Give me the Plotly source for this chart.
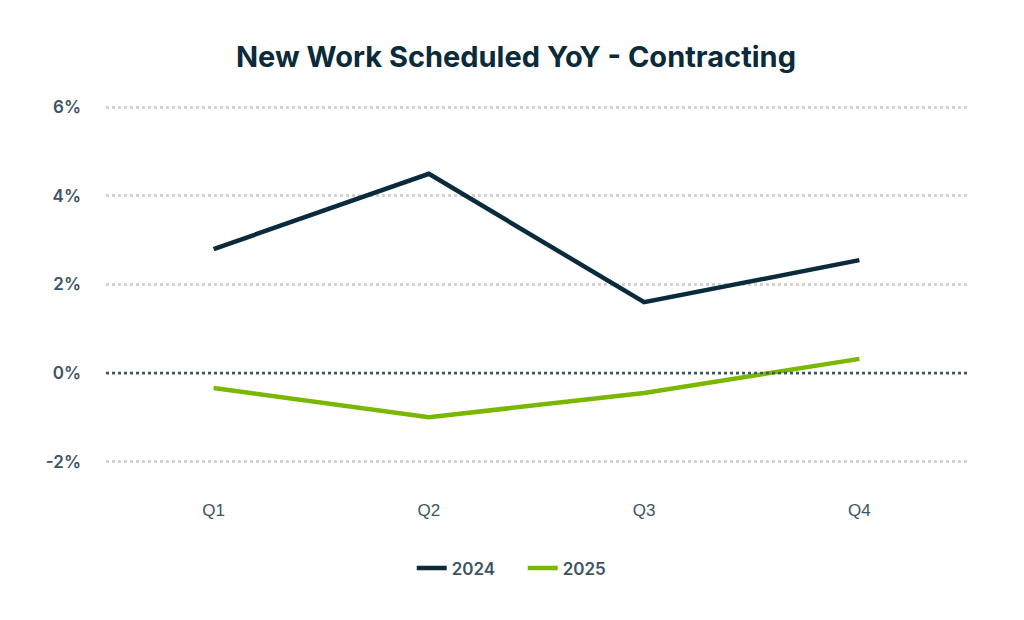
import plotly.graph_objects as go

quarters = ["Q1", "Q2", "Q3", "Q4"]
y2024 = [2.8, 4.5, 1.6, 2.55]
y2025 = [-0.34, -1.0, -0.45, 0.32]
ytick_vals = [-2, 0, 2, 4, 6]
ytick_text = ["-2%", "0%", "2%", "4%", "6%"]

fig = go.Figure()
fig.add_trace(go.Scatter(x=quarters, y=y2024, mode="lines", name="2024",
                         line=dict(color="#0a2b3b", width=4.5)))
fig.add_trace(go.Scatter(x=quarters, y=y2025, mode="lines", name="2025",
                         line=dict(color="#7ab800", width=4.5)))
fig.add_hline(y=0, line=dict(color="#3a5563", width=2.5, dash="dot"), layer="above")

fig.update_layout(
    width=1016, height=612,
    margin=dict(l=98, r=57, t=95, b=154),
    paper_bgcolor="white", plot_bgcolor="white",
    title=dict(text="<b>New Work Scheduled YoY - Contracting</b>", x=0.5, xanchor="center",
               y=0.92, yanchor="middle",
               font=dict(family="Inter", size=29, color="#0b2a3a", weight=800)),
    showlegend=True,
    legend=dict(orientation="h", x=0.484, xanchor="center", y=-0.282, yanchor="middle",
                font=dict(family="Inter", size=17, color="#3d5563", weight=600),
                itemwidth=30, entrywidth=66, entrywidthmode="pixels",
                traceorder="normal"),
    font=dict(family="Inter"),
)
fig.update_xaxes(range=[-0.5, 3.5], showgrid=False, zeroline=False, showline=False,
                 ticks="", ticklabelstandoff=32,
                 tickfont=dict(family="Liberation Sans", size=17, color="#3d5563"))
fig.update_yaxes(range=[-2.1, 6.1], tickvals=ytick_vals, ticktext=ytick_text,
                 showgrid=True, gridcolor="#d3d3d3", gridwidth=2.5, griddash="dot",
                 zeroline=False, showline=False, ticks="", ticklabelstandoff=24,
                 tickfont=dict(family="Inter", size=17, color="#3d5563", weight=600))
fig.write_html("out.html")
